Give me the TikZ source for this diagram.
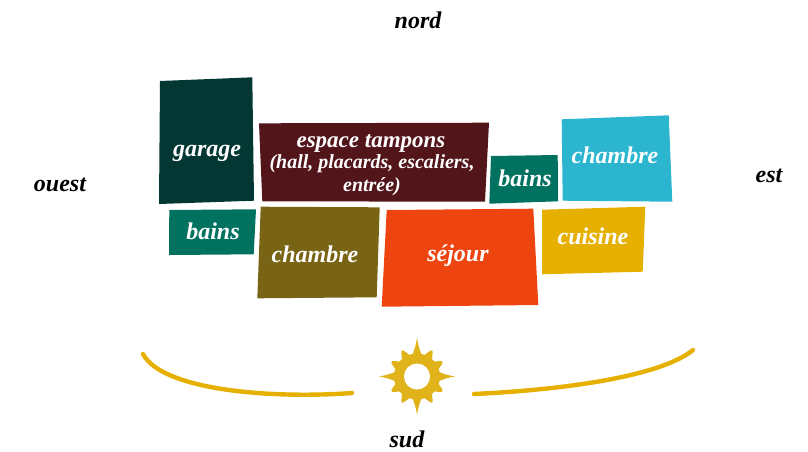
\documentclass[tikz,border=0pt]{standalone}
\usepackage{fontspec}
\setmainfont{Liberation Serif}
\definecolor{cgarage}{HTML}{023733}
\definecolor{cespace}{HTML}{52151A}
\definecolor{cbains}{HTML}{00725F}
\definecolor{colive}{HTML}{786414}
\definecolor{csejour}{HTML}{EE4410}
\definecolor{cbleu}{HTML}{2BB5CF}
\definecolor{cjaune}{HTML}{E5B000}
\definecolor{csun}{HTML}{E0B31B}
\tikzset{
  room/.style={text=white,font=\bfseries\itshape\fontsize{24}{25}\selectfont,align=center,inner sep=0pt},
  roomhead/.style={text=white,font=\bfseries\itshape\fontsize{23}{24}\selectfont,align=center,inner sep=0pt},
  roomsmall/.style={text=white,font=\bfseries\itshape\fontsize{20}{22.5}\selectfont,align=center,inner sep=0pt},
  compass/.style={text=black,font=\bfseries\itshape\fontsize{24}{25}\selectfont,inner sep=0pt},
  arcline/.style={draw=cjaune,line width=4.4pt,line cap=round}
}
\begin{document}
\begin{tikzpicture}[x=1pt,y=-1pt]
\useasboundingbox (0,0) rectangle (808,451);
% rooms
\fill[cgarage] (160,81) -- (252.3,77.3) -- (254,200.7) -- (159,204) -- cycle;
\fill[cespace] (259,123.3) -- (489,122.7) -- (485,201.7) -- (262.3,201.3) -- cycle;
\fill[cbains] (169.3,210) -- (256,209.3) -- (253.7,254.3) -- (169,255) -- cycle;
\fill[colive] (260.7,206.7) -- (379.7,207.3) -- (376.7,297.3) -- (257.3,298.3) -- cycle;
\fill[csejour] (386.7,210) -- (533.3,208.7) -- (538.3,305) -- (381.7,306.7) -- cycle;
\fill[cbains] (491,156) -- (557.7,155) -- (558,201.3) -- (489.3,203.7) -- cycle;
\fill[cbleu] (561.7,119.3) -- (668.7,115.3) -- (672.3,201.7) -- (562.7,200.7) -- cycle;
\fill[cjaune] (542,209.7) -- (645.3,206.7) -- (642.7,271.7) -- (542,274.3) -- cycle;
% labels
\node[room] (garage) at (207,153) {garage};
\node[roomhead] (espace) at (371,143) {espace tampons};
\node[roomsmall] (hall) at (372,175) {(hall, placards, escaliers,\\entrée)};
\node[room] (bainsa) at (213,231) {bains};
\node[room] (chambrea) at (315,254) {chambre};
\node[room] (sejour) at (458,256) {séjour};
\node[room] (bainsb) at (525,178) {bains};
\node[room] (chambreb) at (615,155) {chambre};
\node[room] (cuisine) at (593,236) {cuisine};
% compass
\node[compass] (nord) at (418,20) {nord};
\node[compass] (ouest) at (60,185) {ouest};
\node[compass] (est) at (769,176) {est};
\node[compass] (sud) at (407,439) {sud};
% sun
\coordinate (soleil) at (417,376.5);
\begin{scope}[shift={(soleil)}]
\foreach \a/\r in {90/39,60/30,30/29,0/38,-30/29,-60/30,-90/38,-120/30,-150/29,180/38,150/29,120/30}{
  \fill[csun] (\a+17:20pt) .. controls (\a+7:25pt) and (\a+2:31pt) .. (\a:\r pt)
     .. controls (\a-2:31pt) and (\a-7:25pt) .. (\a-17:20pt) -- (0,0) -- cycle;
}
\fill[csun] (0,0) circle[radius=23pt];
\fill[white] (0,0) circle[radius=13pt];
\end{scope}
% arcs
\coordinate (aa) at (143,354);
\coordinate (ab) at (352,393);
\coordinate (ba) at (474,394);
\coordinate (bb) at (693,350);
\draw[arcline] (aa) .. controls (162,390) and (270,399) .. (ab);
\draw[arcline] (ba) .. controls (560,390) and (660,377) .. (bb);
\end{tikzpicture}
\end{document}
